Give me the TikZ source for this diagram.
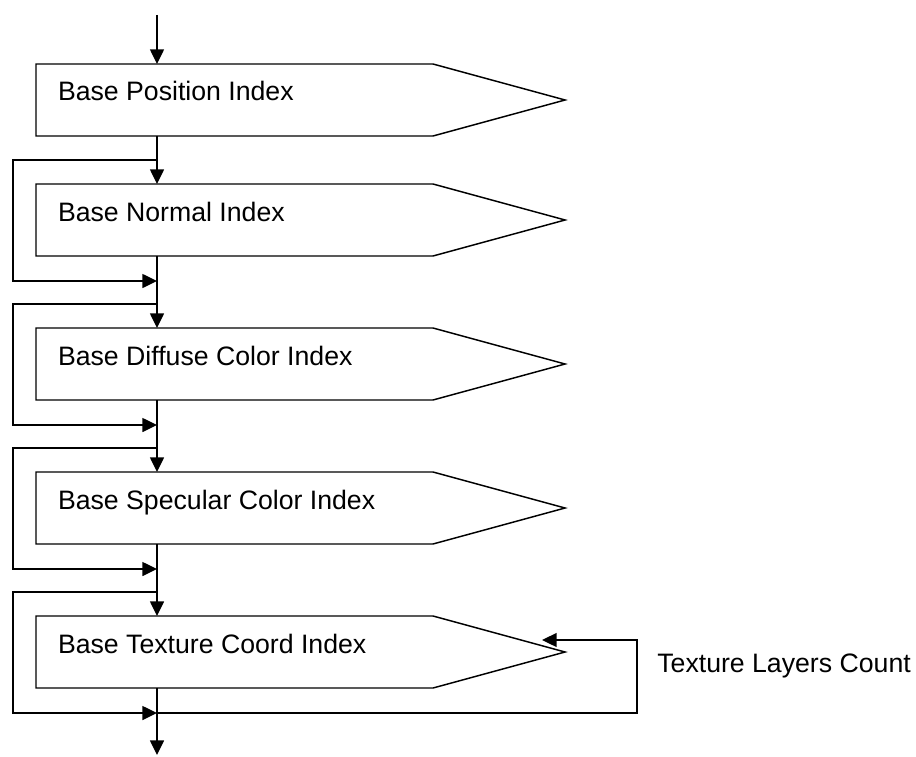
\documentclass[tikz,border=0pt]{standalone}
\usepackage{fontspec}
\setmainfont{Liberation Sans}
\usetikzlibrary{shapes.symbols, arrows.meta, positioning, calc}

\newcommand{\fieldlabel}[1]{\makebox[264.75pt][l]{#1}}

\begin{document}
\begin{tikzpicture}[
  x=0.75pt, y=-0.75pt,
  node distance=54pt,
  field/.style={signal, signal to=east, signal pointer angle=30.5, draw, line width=1.1pt, outer sep=0pt,
    inner xsep=16.5pt, inner ysep=0pt, text height=27.75pt, text depth=26.25pt,
    font=\fontsize{20}{24}\selectfont},
  arrow/.style={-{Triangle[length=11pt, width=10.5pt]}, line width=1.1pt},
]
\useasboundingbox (0,0) rectangle (916,756);

% Fields
\node[field, anchor=west] (pos) at (36,100) {\fieldlabel{Base Position Index}};
\node[field, below=36pt of pos] (norm) {\fieldlabel{Base Normal Index}};
\node[field, below=of norm] (diff) {\fieldlabel{Base Diffuse Color Index}};
\node[field, below=of diff] (spec) {\fieldlabel{Base Specular Color Index}};
\node[field, below=of spec] (tex) {\fieldlabel{Base Texture Coord Index}};

% Trunk
\coordinate (in) at (157,15);
\coordinate (out) at (157,755);
\draw[arrow] (in) -- (pos.north -| in);
\foreach \prev/\cur in {pos/norm, norm/diff, diff/spec, spec/tex}{
  \draw[arrow] (\prev.south -| in) -- (\cur.north -| in);
  % skip loop
  \draw[arrow] ($(\cur.north -| in)+(0,-24)$) -| ($(\cur.west)+(-23,0)$) |- ($(\cur.south -| in)+(0,25)$);
}
\draw[arrow] (tex.south -| in) -- (out);

% Texture layers loop
\draw[arrow] ($(tex.south -| in)+(0,25)$) -| ($(tex.east)+(72,-12)$) -- ($(tex.east)+(-23,-12)$);
\node[anchor=west, inner sep=0pt, font=\fontsize{20}{24}\selectfont] (cnt) at ($(tex.east)+(92,14)$) {Texture Layers Count};

\end{tikzpicture}
\end{document}
